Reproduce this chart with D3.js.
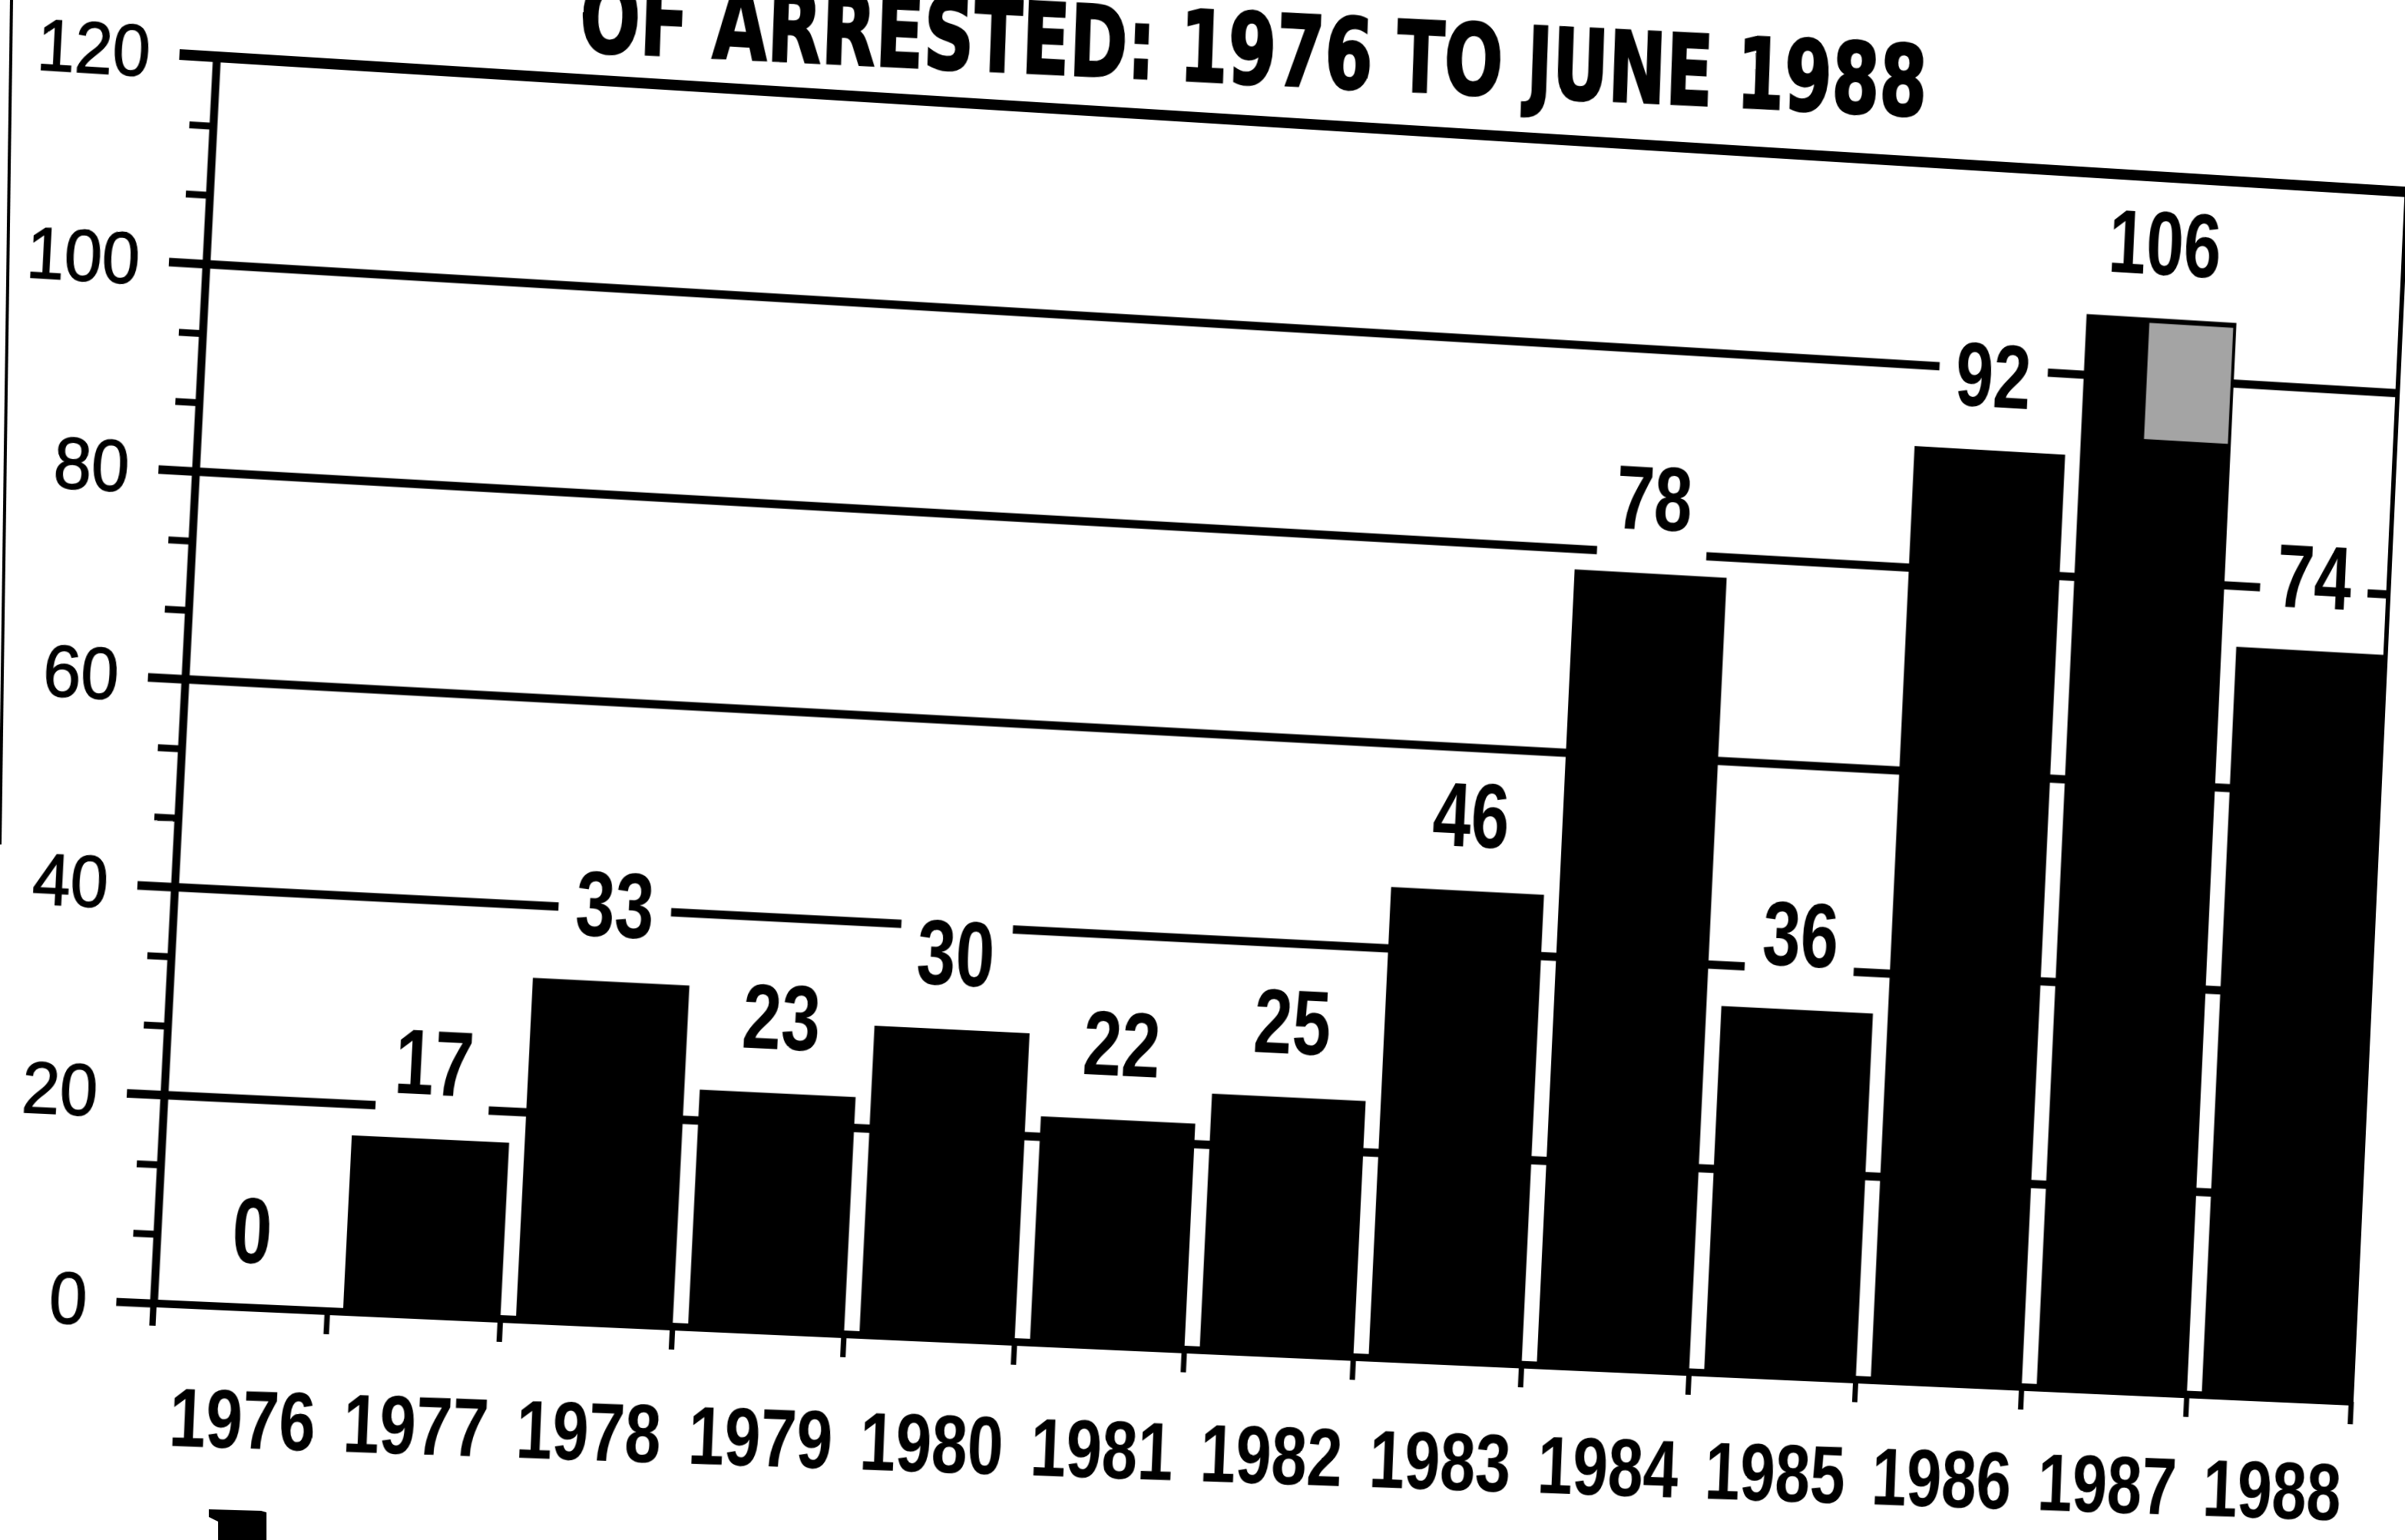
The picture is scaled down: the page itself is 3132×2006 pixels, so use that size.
<!DOCTYPE html>
<html>
<head>
<meta charset="utf-8">
<script src="https://cdn.jsdelivr.net/npm/d3@7"></script>
<style>
  html, body { margin: 0; padding: 0; background: #fff; overflow: hidden; }
  body { width: 3132px; height: 2006px; position: relative; }
  #chart { position: absolute; left: 0; top: 0; transform-origin: 0 0; overflow: visible; }
  #page { position: absolute; left: 0; top: 0; }
</style>
</head>
<body>
<svg id="chart"></svg>
<svg id="page" width="3132" height="2006"></svg>
<script>
let years = ["1976", "1977", "1978", "1979", "1980", "1981", "1982",
             "1983", "1984", "1985", "1986", "1987", "1988"];
let counts = [0, 17, 33, 23, 30, 22, 25, 46, 78, 36, 92, 106, 74];
let yTicks = [0, 20, 40, 60, 80, 100, 120];
// shaded (screened) part of a bar
let shadeYears = ["1987"];
let shadeFrom = [94];
let shadeTo = [105.5];
let titleText = "OF ARRESTED: 1976 TO JUNE 1988";

let w = 3400, h = 2400;
let margin = {left: 300, top: 274};
let pw = 2862, ph = 1624;
let xScale, yScale;

// the clipping is photographed at a slant: plot corners on the page (TL, TR, BR, BL)
let pageCorners = [[282, 74], [3134, 250], [3062, 1826], [200, 1698]];

function homography(src, dst) {
    const A = [], b = [];
    src.forEach(([x, y], i) => {
        const [u, v] = dst[i];
        A.push([x, y, 1, 0, 0, 0, -x * u, -y * u]); b.push(u);
        A.push([0, 0, 0, x, y, 1, -x * v, -y * v]); b.push(v);
    });
    for (let c = 0; c < 8; c++) {
        let p = c;
        for (let r = c + 1; r < 8; r++) if (Math.abs(A[r][c]) > Math.abs(A[p][c])) p = r;
        [A[c], A[p]] = [A[p], A[c]];
        [b[c], b[p]] = [b[p], b[c]];
        for (let r = 0; r < 8; r++) {
            if (r === c) continue;
            const f = A[r][c] / A[c][c];
            for (let k = c; k < 8; k++) A[r][k] -= f * A[c][k];
            b[r] -= f * b[c];
        }
    }
    return b.map((v, i) => v / A[i][i]);
}

function initGraph() {
    const svg = d3.select("#chart")
        .attr("width", w)
        .attr("height", h);

    const src = [[margin.left, margin.top], [margin.left + pw, margin.top],
                 [margin.left + pw, margin.top + ph], [margin.left, margin.top + ph]];
    const [a, b, c, d, e, f, g, hh] = homography(src, pageCorners);
    svg.style("transform", `matrix3d(${a},${d},0,${g},${b},${e},0,${hh},0,0,1,0,${c},${f},0,1)`);

    const chart = svg.append("g")
        .attr("transform", `translate(${margin.left}, ${margin.top})`);

    xScale = d3.scaleBand()
        .domain(years)
        .range([0, pw])
        .paddingInner(0.09)
        .paddingOuter(0.045)
        .align(1);
    yScale = d3.scaleLinear()
        .domain([0, 120])
        .range([ph, 0]);
    const bw = xScale.bandwidth();

    //gridlines
    chart.append("g")
        .selectAll("line")
        .data(yTicks.filter(t => t > 0 && t < 120))
        .join("line")
            .attr("x1", -47)
            .attr("x2", pw)
            .attr("y1", t => yScale(t))
            .attr("y2", t => yScale(t))
            .attr("stroke", "#000")
            .attr("stroke-width", 11);

    //top frame line and right border
    chart.append("line")
        .attr("x1", -47).attr("x2", pw + 3)
        .attr("y1", yScale(120)).attr("y2", yScale(120))
        .attr("stroke", "#000").attr("stroke-width", 14);
    chart.append("line")
        .attr("x1", pw).attr("x2", pw)
        .attr("y1", yScale(120)).attr("y2", yScale(0))
        .attr("stroke", "#000").attr("stroke-width", 6);

    //bars
    chart.append("g")
        .selectAll("rect")
        .data(years)
        .join("rect")
            .attr("x", yr => xScale(yr))
            .attr("y", (yr, i) => yScale(counts[i]))
            .attr("width", bw)
            .attr("height", (yr, i) => yScale(0) - yScale(counts[i]))
            .attr("fill", "#000");

    chart.append("g")
        .selectAll("rect")
        .data(shadeYears)
        .join("rect")
            .attr("x", yr => xScale(yr) + bw * 0.42)
            .attr("y", (yr, i) => yScale(shadeTo[i]))
            .attr("width", bw * 0.56)
            .attr("height", (yr, i) => yScale(shadeFrom[i]) - yScale(shadeTo[i]))
            .attr("fill", "#a4a4a4");

    //y axis, major and minor ticks
    const yAxis = chart.append("g")
        .call(d3.axisLeft(yScale).tickValues(yTicks).tickSize(47).tickPadding(37).tickSizeOuter(0));
    yAxis.select(".domain").attr("stroke-width", 10);
    yAxis.selectAll(".tick line").attr("stroke-width", 10);
    yAxis.selectAll(".tick text")
        .attr("x", 0)
        .attr("transform", "translate(-84,0) scale(0.9,1)")
        .attr("font-family", "'Liberation Sans', Arial, sans-serif")
        .attr("font-size", 95)
        .attr("fill", "#000")
        .attr("stroke", "#000")
        .attr("stroke-width", 1.5);

    const minorTicks = d3.range(0, 120, 20 / 3).filter((t, i) => i % 3 !== 0);
    const yMinor = chart.append("g")
        .call(d3.axisLeft(yScale).tickValues(minorTicks).tickSize(30).tickFormat(""));
    yMinor.select(".domain").remove();
    yMinor.selectAll(".tick line").attr("stroke-width", 9);

    chart.append("line")
        .attr("x1", 0).attr("x2", 0)
        .attr("y1", ph).attr("y2", ph + 29)
        .attr("stroke", "#000").attr("stroke-width", 8);

    //x axis
    chart.append("line")
        .attr("x1", -47).attr("x2", pw + 3)
        .attr("y1", ph).attr("y2", ph)
        .attr("stroke", "#000").attr("stroke-width", 10);
    chart.append("g")
        .selectAll("line")
        .data(years)
        .join("line")
            .attr("x1", yr => xScale(yr) + bw)
            .attr("x2", yr => xScale(yr) + bw)
            .attr("y1", ph)
            .attr("y2", ph + 30)
            .attr("stroke", "#000")
            .attr("stroke-width", 7);

    // the year row sits a little flatter than the axis
    chart.append("g")
        .attr("transform", `translate(0, ${ph + 184}) rotate(-0.5)`)
        .selectAll("text")
        .data(years)
        .join("text")
            .attr("transform", yr => `translate(${xScale(yr) + bw / 2}, 0) scale(0.77,1)`)
            .attr("text-anchor", "middle")
            .attr("font-family", "'Liberation Sans', Arial, sans-serif")
            .attr("font-weight", "bold")
            .attr("font-size", 108)
            .attr("fill", "#000")
            .text(yr => yr);

    //value labels on a white patch that breaks the gridlines
    const labels = chart.append("g")
        .selectAll("g")
        .data(years)
        .join("g")
            .attr("transform", (yr, i) => `translate(${xScale(yr) + bw / 2}, ${yScale(counts[i]) - 58})`);
    labels.append("rect").attr("fill", "#fff");
    labels.append("text")
        .attr("transform", "scale(0.75,1)")
        .attr("text-anchor", "middle")
        .attr("font-family", "'Liberation Sans', Arial, sans-serif")
        .attr("font-weight", "bold")
        .attr("font-size", 120)
        .attr("fill", "#000")
        .text((yr, i) => counts[i]);
    labels.each(function() {
        const bb = d3.select(this).select("text").node().getBBox();
        d3.select(this).select("rect")
            .attr("x", bb.x * 0.75 - 22)
            .attr("width", bb.width * 0.75 + 44)
            .attr("y", -106)
            .attr("height", 146);
    });

    //title
    chart.append("text")
        .attr("transform", "translate(1338,-49) rotate(-0.82)")
        .attr("text-anchor", "middle")
        .attr("font-family", "'DejaVu Sans', sans-serif")
        .attr("font-weight", "bold")
        .attr("font-size", 130)
        .attr("textLength", 1756)
        .attr("lengthAdjust", "spacingAndGlyphs")
        .attr("fill", "#000")
        .attr("stroke", "#000")
        .attr("stroke-width", 3)
        .text(titleText);

    //page edge and the top of the next column's initial
    const page = d3.select("#page");
    page.append("line")
        .attr("x1", 15).attr("y1", 0).attr("x2", 0).attr("y2", 1100)
        .attr("stroke", "#000").attr("stroke-width", 4);
    page.append("path")
        .attr("d", "M272,1966 L340,1968 L347,1970 L347,2006 L284,2006 L284,1982 L272,1976 Z")
        .attr("fill", "#000");
}

initGraph();
</script>
</body>
</html>
